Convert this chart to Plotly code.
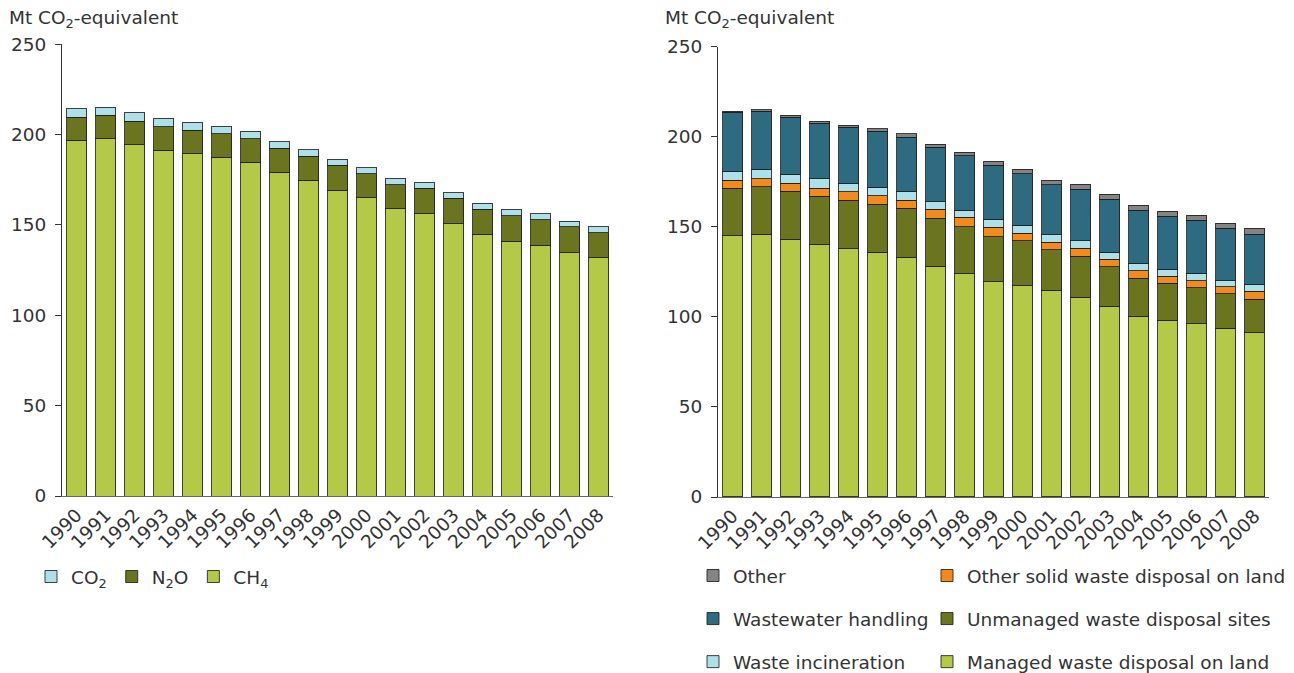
import plotly.graph_objects as go
from plotly.subplots import make_subplots

years = [str(y) for y in range(1990, 2009)]

# Left panel: by gas (Mt CO2-eq)
ch4 = [196.9, 197.6, 194.4, 191.5, 189.5, 187.4, 184.7, 179.3, 174.7, 169.3,
       165.0, 159.1, 156.1, 150.8, 144.8, 140.9, 138.7, 134.7, 131.9]
n2o = [12.8, 13.2, 13.0, 12.8, 12.9, 13.0, 13.1, 13.1, 13.3, 13.7,
       13.4, 13.3, 14.1, 13.9, 13.9, 14.3, 14.1, 14.4, 13.9]
co2 = [4.7, 4.4, 4.6, 4.8, 4.5, 4.3, 4.1, 3.7, 3.7, 3.3,
       3.3, 3.5, 3.2, 3.1, 3.4, 3.2, 3.3, 2.9, 3.3]

# Right panel: by source (Mt CO2-eq)
managed = [145.0, 145.8, 143.0, 140.4, 137.8, 135.8, 133.2, 128.0, 123.9, 119.4,
           117.4, 114.7, 110.9, 105.9, 100.4, 98.1, 96.3, 93.7, 91.3]
unmanaged = [26.3, 26.4, 26.7, 26.5, 27.0, 26.8, 27.0, 26.7, 26.1, 25.0,
             24.8, 22.7, 22.8, 21.9, 21.1, 20.6, 20.0, 19.1, 18.5]
other_solid = [4.5, 4.5, 4.4, 4.6, 4.6, 4.6, 4.6, 5.0, 5.2, 5.4,
               4.1, 3.9, 4.3, 4.1, 4.1, 3.9, 3.9, 3.9, 4.3]
incineration = [5.0, 5.2, 5.0, 5.2, 4.9, 4.9, 4.9, 4.2, 3.9, 4.3,
                4.5, 4.3, 4.2, 3.9, 4.1, 3.9, 3.9, 3.5, 3.9]
wastewater = [32.7, 32.2, 31.7, 30.7, 30.9, 30.9, 30.1, 30.2, 30.3, 30.0,
              28.6, 27.7, 28.6, 29.4, 29.6, 29.3, 29.5, 28.9, 27.9]
other = [0.6, 0.9, 1.1, 1.1, 1.3, 1.4, 1.9, 1.7, 1.9, 2.2,
         2.5, 2.5, 2.8, 2.8, 2.8, 2.8, 2.7, 3.0, 3.2]

C_LIGHTGREEN = "#b3c947"
C_DARKGREEN = "#6b7520"
C_LIGHTBLUE = "#ade0e8"
C_ORANGE = "#f28a1e"
C_TEAL = "#2e6b80"
C_GREY = "#848484"

W, H = 1294, 673
OFF = 8  # page body margin offset
FONT = "DejaVu Sans"
FS = 18.5
TXT = "#333333"
OUTLINE = dict(color="rgba(30,30,30,0.85)", width=1)

fig = make_subplots(rows=1, cols=2)

left = [("CH<sub>4</sub>", ch4, C_LIGHTGREEN),
        ("N<sub>2</sub>O", n2o, C_DARKGREEN),
        ("CO<sub>2</sub>", co2, C_LIGHTBLUE)]
for name, vals, col in left:
    fig.add_trace(go.Bar(x=years, y=vals, name=name, marker=dict(color=col, line=OUTLINE),
                         legend="legend"), row=1, col=1)

right = [("Managed waste disposal on land", managed, C_LIGHTGREEN, "legend3", 3),
         ("Unmanaged waste disposal sites", unmanaged, C_DARKGREEN, "legend3", 2),
         ("Other solid waste disposal on land", other_solid, C_ORANGE, "legend3", 1),
         ("Waste incineration", incineration, C_LIGHTBLUE, "legend2", 3),
         ("Wastewater handling", wastewater, C_TEAL, "legend2", 2),
         ("Other", other, C_GREY, "legend2", 1)]
for name, vals, col, lg, rank in right:
    fig.add_trace(go.Bar(x=years, y=vals, name=name, marker=dict(color=col, line=OUTLINE),
                         legend=lg, legendrank=rank, legendgroup=name), row=1, col=2)

def px(x):
    return (x - OFF) / W

def py(y):
    return 1 - (y - OFF) / H

fig.update_layout(
    width=W, height=H,
    margin=dict(l=0, r=0, t=0, b=0, autoexpand=False),
    paper_bgcolor="white", plot_bgcolor="white",
    barmode="stack", bargap=0.31,
    font=dict(family=FONT, size=FS, color=TXT),
    xaxis=dict(domain=[px(62), px(613)]),
    xaxis2=dict(domain=[px(718), px(1269)]),
    yaxis=dict(domain=[py(496), py(44.3)]),
    yaxis2=dict(domain=[py(497), py(46.7)]),
)

lfont = dict(family=FONT, size=FS, color=TXT)
fig.update_layout(
    legend=dict(orientation="h", x=px(31), y=py(577), xanchor="left", yanchor="middle",
                font=lfont, bgcolor="rgba(0,0,0,0)", traceorder="reversed"),
    legend2=dict(orientation="v", x=px(693), y=py(557), xanchor="left", yanchor="top",
                 font=lfont, bgcolor="rgba(0,0,0,0)", traceorder="grouped",
                 tracegroupgap=16),
    legend3=dict(orientation="v", x=px(927), y=py(557), xanchor="left", yanchor="top",
                 font=lfont, bgcolor="rgba(0,0,0,0)", traceorder="grouped",
                 tracegroupgap=16),
)

for i in (1, 2):
    fig.update_xaxes(type="category", showline=True, linecolor="#666666", linewidth=1,
                     ticks="", tickangle=-45, showgrid=False,
                     tickfont=dict(family=FONT, size=FS, color=TXT), row=1, col=i)
    fig.update_yaxes(range=[0, 250], tickvals=[0, 50, 100, 150, 200, 250],
                     showline=True, linecolor="#333333", linewidth=1,
                     ticks="outside", ticklen=6, tickcolor="#333333",
                     ticklabelstandoff=5,
                     showgrid=False, zeroline=False,
                     tickfont=dict(family=FONT, size=FS, color=TXT), row=1, col=i)

for xpos in (7, 663):
    fig.add_annotation(text="Mt CO<sub>2</sub>-equivalent", xref="paper", yref="paper",
                       x=px(xpos), y=py(19), xanchor="left", yanchor="middle",
                       showarrow=False, font=dict(family=FONT, size=FS, color=TXT))

fig.write_html("out.html")
